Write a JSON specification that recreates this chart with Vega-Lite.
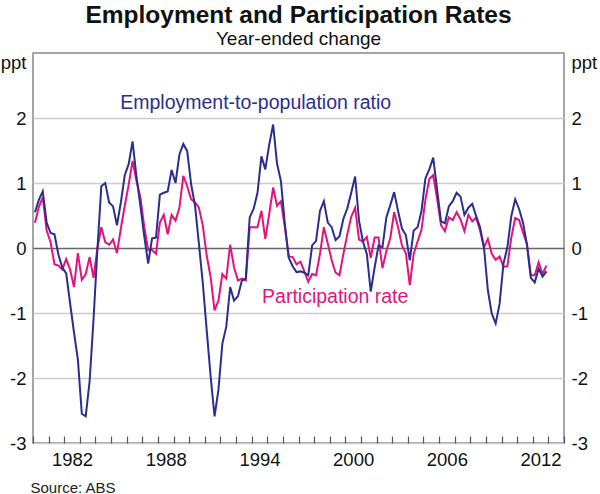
{
  "$schema": "https://vega.github.io/schema/vega-lite/v6.json",
  "description": "Employment and Participation Rates, year-ended change",
  "width": 531,
  "height": 390,
  "autosize": "none",
  "padding": {"left": 33, "top": 53, "right": 36, "bottom": 51},
  "title": {
    "text": "Employment and Participation Rates",
    "subtitle": "Year-ended change",
    "anchor": "middle",
    "fontSize": 24.5,
    "fontWeight": "bold",
    "color": "#111111",
    "subtitleFontSize": 19,
    "subtitleColor": "#111111",
    "subtitlePadding": 2,
    "offset": 3
  },
  "datasets": {
    "employment": [
      {"year": 1980.125, "value": 0.55}, {"year": 1980.375, "value": 0.74}, {"year": 1980.625, "value": 0.87}, {"year": 1980.875, "value": 0.39},
      {"year": 1981.125, "value": 0.23}, {"year": 1981.375, "value": 0.21}, {"year": 1981.625, "value": -0.1}, {"year": 1981.875, "value": -0.3},
      {"year": 1982.125, "value": -0.39}, {"year": 1982.375, "value": -0.85}, {"year": 1982.625, "value": -1.3}, {"year": 1982.875, "value": -1.72},
      {"year": 1983.125, "value": -2.55}, {"year": 1983.375, "value": -2.59}, {"year": 1983.625, "value": -2.05}, {"year": 1983.875, "value": -1.1},
      {"year": 1984.125, "value": -0.02}, {"year": 1984.375, "value": 0.95}, {"year": 1984.625, "value": 1.0}, {"year": 1984.875, "value": 0.7},
      {"year": 1985.125, "value": 0.64}, {"year": 1985.375, "value": 0.35}, {"year": 1985.625, "value": 0.7}, {"year": 1985.875, "value": 1.12},
      {"year": 1986.125, "value": 1.29}, {"year": 1986.375, "value": 1.64}, {"year": 1986.625, "value": 1.1}, {"year": 1986.875, "value": 0.65},
      {"year": 1987.125, "value": 0.18}, {"year": 1987.375, "value": -0.24}, {"year": 1987.625, "value": 0.15}, {"year": 1987.875, "value": 0.16},
      {"year": 1988.125, "value": 0.82}, {"year": 1988.375, "value": 0.85}, {"year": 1988.625, "value": 0.87}, {"year": 1988.875, "value": 1.2},
      {"year": 1989.125, "value": 1.0}, {"year": 1989.375, "value": 1.44}, {"year": 1989.625, "value": 1.6}, {"year": 1989.875, "value": 1.49},
      {"year": 1990.125, "value": 0.98}, {"year": 1990.375, "value": 0.65}, {"year": 1990.625, "value": 0.06}, {"year": 1990.875, "value": -0.55},
      {"year": 1991.125, "value": -1.27}, {"year": 1991.375, "value": -1.98}, {"year": 1991.625, "value": -2.59}, {"year": 1991.875, "value": -2.18},
      {"year": 1992.125, "value": -1.47}, {"year": 1992.375, "value": -1.21}, {"year": 1992.625, "value": -0.6}, {"year": 1992.875, "value": -0.81},
      {"year": 1993.125, "value": -0.74}, {"year": 1993.375, "value": -0.5}, {"year": 1993.625, "value": -0.47}, {"year": 1993.875, "value": 0.47},
      {"year": 1994.125, "value": 0.6}, {"year": 1994.375, "value": 0.85}, {"year": 1994.625, "value": 1.41}, {"year": 1994.875, "value": 1.21},
      {"year": 1995.125, "value": 1.59}, {"year": 1995.375, "value": 1.9}, {"year": 1995.625, "value": 1.3}, {"year": 1995.875, "value": 1.03},
      {"year": 1996.125, "value": 0.37}, {"year": 1996.375, "value": -0.15}, {"year": 1996.625, "value": -0.28}, {"year": 1996.875, "value": -0.37},
      {"year": 1997.125, "value": -0.36}, {"year": 1997.375, "value": -0.38}, {"year": 1997.625, "value": -0.42}, {"year": 1997.875, "value": 0.04},
      {"year": 1998.125, "value": 0.11}, {"year": 1998.375, "value": 0.57}, {"year": 1998.625, "value": 0.72}, {"year": 1998.875, "value": 0.39},
      {"year": 1999.125, "value": 0.32}, {"year": 1999.375, "value": 0.12}, {"year": 1999.625, "value": 0.18}, {"year": 1999.875, "value": 0.45},
      {"year": 2000.125, "value": 0.61}, {"year": 2000.375, "value": 0.85}, {"year": 2000.625, "value": 1.1}, {"year": 2000.875, "value": 0.42},
      {"year": 2001.125, "value": 0.1}, {"year": 2001.375, "value": -0.09}, {"year": 2001.625, "value": -0.67}, {"year": 2001.875, "value": -0.3},
      {"year": 2002.125, "value": 0.04}, {"year": 2002.375, "value": 0.01}, {"year": 2002.625, "value": 0.47}, {"year": 2002.875, "value": 0.66},
      {"year": 2003.125, "value": 0.86}, {"year": 2003.375, "value": 0.57}, {"year": 2003.625, "value": 0.3}, {"year": 2003.875, "value": 0.2},
      {"year": 2004.125, "value": -0.19}, {"year": 2004.375, "value": 0.27}, {"year": 2004.625, "value": 0.32}, {"year": 2004.875, "value": 0.57},
      {"year": 2005.125, "value": 1.07}, {"year": 2005.375, "value": 1.21}, {"year": 2005.625, "value": 1.39}, {"year": 2005.875, "value": 0.9},
      {"year": 2006.125, "value": 0.41}, {"year": 2006.375, "value": 0.38}, {"year": 2006.625, "value": 0.64}, {"year": 2006.875, "value": 0.72},
      {"year": 2007.125, "value": 0.85}, {"year": 2007.375, "value": 0.79}, {"year": 2007.625, "value": 0.51}, {"year": 2007.875, "value": 0.62},
      {"year": 2008.125, "value": 0.68}, {"year": 2008.375, "value": 0.49}, {"year": 2008.625, "value": 0.32}, {"year": 2008.875, "value": 0.01},
      {"year": 2009.125, "value": -0.65}, {"year": 2009.375, "value": -1.01}, {"year": 2009.625, "value": -1.16}, {"year": 2009.875, "value": -0.86},
      {"year": 2010.125, "value": -0.24}, {"year": 2010.375, "value": 0.01}, {"year": 2010.625, "value": 0.49}, {"year": 2010.875, "value": 0.75},
      {"year": 2011.125, "value": 0.6}, {"year": 2011.375, "value": 0.39}, {"year": 2011.625, "value": 0.06}, {"year": 2011.875, "value": -0.46},
      {"year": 2012.125, "value": -0.53}, {"year": 2012.375, "value": -0.32}, {"year": 2012.625, "value": -0.44}, {"year": 2012.875, "value": -0.36}
    ],
    "participation": [
      {"year": 1980.125, "value": 0.39}, {"year": 1980.375, "value": 0.63}, {"year": 1980.625, "value": 0.78}, {"year": 1980.875, "value": 0.27},
      {"year": 1981.125, "value": 0.09}, {"year": 1981.375, "value": -0.25}, {"year": 1981.625, "value": -0.27}, {"year": 1981.875, "value": -0.33},
      {"year": 1982.125, "value": -0.17}, {"year": 1982.375, "value": -0.33}, {"year": 1982.625, "value": -0.6}, {"year": 1982.875, "value": -0.08},
      {"year": 1983.125, "value": -0.49}, {"year": 1983.375, "value": -0.4}, {"year": 1983.625, "value": -0.14}, {"year": 1983.875, "value": -0.46},
      {"year": 1984.125, "value": 0.0}, {"year": 1984.375, "value": 0.32}, {"year": 1984.625, "value": 0.09}, {"year": 1984.875, "value": 0.05},
      {"year": 1985.125, "value": 0.13}, {"year": 1985.375, "value": -0.08}, {"year": 1985.625, "value": 0.3}, {"year": 1985.875, "value": 0.65},
      {"year": 1986.125, "value": 0.97}, {"year": 1986.375, "value": 1.34}, {"year": 1986.625, "value": 1.03}, {"year": 1986.875, "value": 0.78},
      {"year": 1987.125, "value": 0.32}, {"year": 1987.375, "value": -0.03}, {"year": 1987.625, "value": -0.03}, {"year": 1987.875, "value": -0.09},
      {"year": 1988.125, "value": 0.39}, {"year": 1988.375, "value": 0.51}, {"year": 1988.625, "value": 0.21}, {"year": 1988.875, "value": 0.51},
      {"year": 1989.125, "value": 0.42}, {"year": 1989.375, "value": 0.62}, {"year": 1989.625, "value": 1.11}, {"year": 1989.875, "value": 0.95},
      {"year": 1990.125, "value": 0.75}, {"year": 1990.375, "value": 0.7}, {"year": 1990.625, "value": 0.62}, {"year": 1990.875, "value": 0.34},
      {"year": 1991.125, "value": -0.12}, {"year": 1991.375, "value": -0.45}, {"year": 1991.625, "value": -0.96}, {"year": 1991.875, "value": -0.81},
      {"year": 1992.125, "value": -0.4}, {"year": 1992.375, "value": -0.47}, {"year": 1992.625, "value": 0.05}, {"year": 1992.875, "value": -0.3},
      {"year": 1993.125, "value": -0.5}, {"year": 1993.375, "value": -0.47}, {"year": 1993.625, "value": -0.5}, {"year": 1993.875, "value": 0.32},
      {"year": 1994.125, "value": 0.32}, {"year": 1994.375, "value": 0.32}, {"year": 1994.625, "value": 0.57}, {"year": 1994.875, "value": 0.14},
      {"year": 1995.125, "value": 0.52}, {"year": 1995.375, "value": 0.93}, {"year": 1995.625, "value": 0.65}, {"year": 1995.875, "value": 0.72},
      {"year": 1996.125, "value": 0.32}, {"year": 1996.375, "value": -0.13}, {"year": 1996.625, "value": -0.14}, {"year": 1996.875, "value": -0.25},
      {"year": 1997.125, "value": -0.21}, {"year": 1997.375, "value": -0.36}, {"year": 1997.625, "value": -0.52}, {"year": 1997.875, "value": -0.4},
      {"year": 1998.125, "value": -0.42}, {"year": 1998.375, "value": -0.09}, {"year": 1998.625, "value": 0.32}, {"year": 1998.875, "value": 0.07},
      {"year": 1999.125, "value": -0.19}, {"year": 1999.375, "value": -0.38}, {"year": 1999.625, "value": -0.42}, {"year": 1999.875, "value": -0.09},
      {"year": 2000.125, "value": 0.21}, {"year": 2000.375, "value": 0.48}, {"year": 2000.625, "value": 0.62}, {"year": 2000.875, "value": 0.13},
      {"year": 2001.125, "value": 0.1}, {"year": 2001.375, "value": 0.17}, {"year": 2001.625, "value": -0.15}, {"year": 2001.875, "value": 0.16},
      {"year": 2002.125, "value": 0.16}, {"year": 2002.375, "value": -0.31}, {"year": 2002.625, "value": -0.05}, {"year": 2002.875, "value": 0.15},
      {"year": 2003.125, "value": 0.55}, {"year": 2003.375, "value": 0.32}, {"year": 2003.625, "value": 0.04}, {"year": 2003.875, "value": -0.08},
      {"year": 2004.125, "value": -0.57}, {"year": 2004.375, "value": -0.09}, {"year": 2004.625, "value": 0.1}, {"year": 2004.875, "value": 0.28},
      {"year": 2005.125, "value": 0.74}, {"year": 2005.375, "value": 1.06}, {"year": 2005.625, "value": 1.12}, {"year": 2005.875, "value": 0.76},
      {"year": 2006.125, "value": 0.35}, {"year": 2006.375, "value": 0.26}, {"year": 2006.625, "value": 0.47}, {"year": 2006.875, "value": 0.43},
      {"year": 2007.125, "value": 0.55}, {"year": 2007.375, "value": 0.44}, {"year": 2007.625, "value": 0.26}, {"year": 2007.875, "value": 0.51},
      {"year": 2008.125, "value": 0.41}, {"year": 2008.375, "value": 0.47}, {"year": 2008.625, "value": 0.27}, {"year": 2008.875, "value": 0.01},
      {"year": 2009.125, "value": 0.14}, {"year": 2009.375, "value": -0.09}, {"year": 2009.625, "value": -0.18}, {"year": 2009.875, "value": -0.13},
      {"year": 2010.125, "value": -0.29}, {"year": 2010.375, "value": -0.28}, {"year": 2010.625, "value": 0.16}, {"year": 2010.875, "value": 0.46},
      {"year": 2011.125, "value": 0.43}, {"year": 2011.375, "value": 0.24}, {"year": 2011.625, "value": 0.06}, {"year": 2011.875, "value": -0.42},
      {"year": 2012.125, "value": -0.42}, {"year": 2012.375, "value": -0.22}, {"year": 2012.625, "value": -0.4}, {"year": 2012.875, "value": -0.27}
    ],
    "labels": [
      {"series": "Employment-to-population ratio", "year": 1994.26, "value": 2.23},
      {"series": "Participation rate", "year": 1999.35, "value": -0.76}
    ]
  },
  "layer": [
    {
      "data": {"name": "participation"},
      "mark": {"type": "line", "color": "#e5127e", "strokeWidth": 2},
      "encoding": {
        "x": {
          "field": "year",
          "type": "quantitative",
          "scale": {"domain": [1980, 2014], "nice": false, "zero": false},
          "axis": {
            "orient": "bottom",
            "values": [1980, 1981, 1982, 1983, 1984, 1985, 1986, 1987, 1988, 1989, 1990, 1991, 1992, 1993, 1994, 1995, 1996, 1997, 1998, 1999, 2000, 2001, 2002, 2003, 2004, 2005, 2006, 2007, 2008, 2009, 2010, 2011, 2012, 2013, 2014],
            "labels": false,
            "domain": false,
            "grid": false,
            "tickSize": -7,
            "tickColor": "#555555",
            "tickWidth": 1.2,
            "title": "Source: ABS",
            "titleX": -3,
            "titleY": 44,
            "titleAlign": "left",
            "titleBaseline": "middle",
            "titleFontSize": 15,
            "titleFontWeight": "normal",
            "titleColor": "#222222"
          }
        },
        "y": {
          "field": "value",
          "type": "quantitative",
          "scale": {"domain": [-3, 3], "nice": false, "zero": false},
          "axis": {
            "orient": "left",
            "values": [-3, -2, -1, 0, 1, 2],
            "labelExpr": "datum.value + ''",
            "domain": false,
            "ticks": false,
            "grid": true,
            "gridColor": {"condition": {"test": "datum.value === 0", "value": "#666666"}, "value": "#cccccc"},
            "gridWidth": 1.5,
            "labelFontSize": 18.5,
            "labelPadding": 7,
            "labelColor": "#111111",
            "labelFlush": false,
            "title": "ppt",
            "titleAngle": 0,
            "titleAlign": "right",
            "titleBaseline": "alphabetic",
            "titleX": -7,
            "titleY": 15,
            "titleFontSize": 18.5,
            "titleFontWeight": "normal",
            "titleColor": "#111111"
          }
        }
      }
    },
    {
      "data": {"name": "employment"},
      "mark": {"type": "line", "color": "#2a2e8f", "strokeWidth": 2},
      "encoding": {
        "x": {"field": "year", "type": "quantitative", "axis": null},
        "y": {"field": "value", "type": "quantitative", "axis": null}
      }
    },
    {
      "data": {"name": "labels"},
      "mark": {"type": "text", "fontSize": 19.5, "align": "center", "baseline": "middle"},
      "encoding": {
        "x": {
          "field": "year",
          "type": "quantitative",
          "axis": {
            "orient": "bottom",
            "values": [1982.5, 1988.5, 1994.5, 2000.5, 2006.5, 2012.5],
            "labelExpr": "floor(datum.value) + ''",
            "ticks": false,
            "domain": false,
            "grid": false,
            "labelFontSize": 18.5,
            "labelPadding": 7,
            "labelColor": "#111111",
            "labelFlush": false,
            "labelOverlap": false,
            "title": null
          }
        },
        "y": {
          "field": "value",
          "type": "quantitative",
          "axis": {
            "orient": "right",
            "values": [-3, -2, -1, 0, 1, 2],
            "labelExpr": "datum.value + ''",
            "domain": false,
            "ticks": false,
            "grid": false,
            "labelFontSize": 18.5,
            "labelPadding": 7,
            "labelColor": "#111111",
            "labelFlush": false,
            "title": "ppt",
            "titleAngle": 0,
            "titleAlign": "left",
            "titleBaseline": "alphabetic",
            "titleX": 7,
            "titleY": 15,
            "titleFontSize": 18.5,
            "titleFontWeight": "normal",
            "titleColor": "#111111"
          }
        },
        "text": {"field": "series", "type": "nominal"},
        "color": {
          "field": "series",
          "type": "nominal",
          "scale": {"domain": ["Employment-to-population ratio", "Participation rate"], "range": ["#2a2e8f", "#e5127e"]},
          "legend": null
        }
      }
    }
  ],
  "resolve": {"axis": {"x": "independent", "y": "independent"}},
  "config": {
    "font": "Liberation Sans",
    "view": {"stroke": "#888888", "strokeWidth": 1.5}
  }
}
